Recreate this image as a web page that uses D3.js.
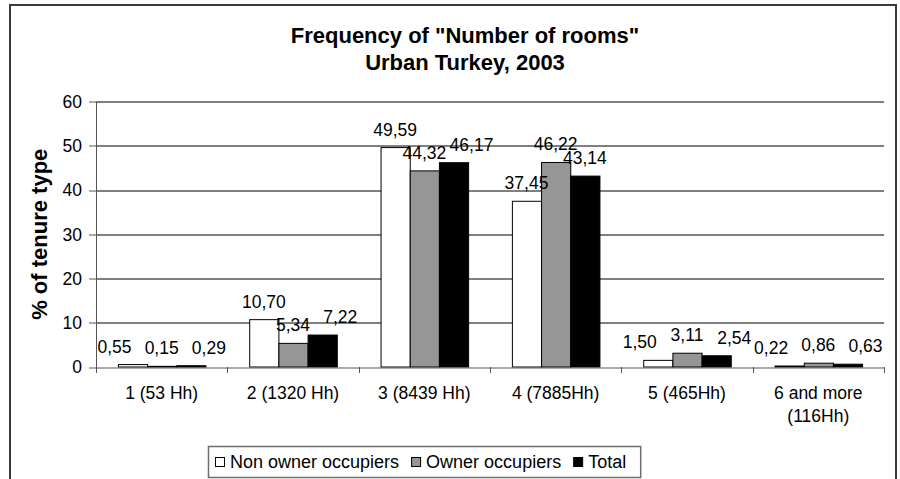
<!DOCTYPE html>
<html>
<head>
<meta charset="utf-8">
<script src="https://cdn.jsdelivr.net/npm/d3@7"></script>
<style>
  body { margin: 0; background: #fff; }
  svg { display: block; font-family: "Liberation Sans", Arial, sans-serif; }
</style>
</head>
<body>
<script>
const categories = [
  "1 (53 Hh)",
  "2 (1320 Hh)",
  "3 (8439 Hh)",
  "4 (7885Hh)",
  "5 (465Hh)",
  "6 and more (116Hh)",
];
const seriesNames = ["Non owner occupiers", "Owner occupiers", "Total"];
const nonOwner = [0.55, 10.7, 49.59, 37.45, 1.5, 0.22];
const owner = [0.15, 5.34, 44.32, 46.22, 3.11, 0.86];
const total = [0.29, 7.22, 46.17, 43.14, 2.54, 0.63];
const yTicks = [0, 10, 20, 30, 40, 50, 60];

const seriesValues = [nonOwner, owner, total];
const seriesFill = ["#ffffff", "#969696", "#000000"];

const margin = { top: 101.5, right: 16, bottom: 112, left: 96 },
  W = 900,
  H = 479,
  width = W - margin.left - margin.right,
  height = H - margin.top - margin.bottom;

const svg = d3
  .select("body")
  .append("svg")
  .attr("width", W)
  .attr("height", H);

svg.append("rect").attr("width", W).attr("height", H).attr("fill", "#fff");

// chart area border (runs off the bottom like the original)
svg
  .append("rect")
  .attr("x", 10)
  .attr("y", 5)
  .attr("width", 886)
  .attr("height", 520)
  .attr("fill", "none")
  .attr("stroke", "#3a3a3a")
  .attr("stroke-width", 2);

// title
const title = svg
  .append("text")
  .attr("text-anchor", "middle")
  .attr("font-weight", "bold")
  .attr("font-size", 22);
title.append("tspan").attr("x", 465).attr("y", 43).text('Frequency of "Number of rooms"');
title.append("tspan").attr("x", 465).attr("y", 70).text("Urban Turkey, 2003");

const g = svg
  .append("g")
  .attr("transform", "translate(" + margin.left + "," + margin.top + ")");

const x0 = d3.scaleBand().domain(categories).range([0, width]);
const x1 = d3
  .scaleBand()
  .domain(seriesNames)
  .range([0, x0.bandwidth()])
  .paddingInner(0)
  .paddingOuter(0.75);
const y = d3.scaleLinear().domain([0, 60]).range([height, 0]);

const crisp = (v) => Math.round(v) + 0.5;

// gridlines
g.selectAll(".grid")
  .data(yTicks.filter((d) => d > 0))
  .enter()
  .append("line")
  .attr("class", "grid")
  .attr("x1", 0)
  .attr("x2", width)
  .attr("y1", (d) => crisp(y(d)))
  .attr("y2", (d) => crisp(y(d)))
  .attr("stroke", "#000")
  .attr("stroke-width", 1);

// y axis
g.append("line")
  .attr("x1", 0.5)
  .attr("x2", 0.5)
  .attr("y1", crisp(y(60)))
  .attr("y2", height + 6)
  .attr("stroke", "#555");

g.selectAll(".ytick")
  .data(yTicks)
  .enter()
  .append("line")
  .attr("x1", -7)
  .attr("x2", 0)
  .attr("y1", (d) => crisp(y(d)))
  .attr("y2", (d) => crisp(y(d)))
  .attr("stroke", "#555");

g.selectAll(".ylab")
  .data(yTicks)
  .enter()
  .append("text")
  .attr("x", -14)
  .attr("y", (d) => y(d))
  .attr("dy", "0.36em")
  .attr("text-anchor", "end")
  .attr("font-size", 17.5)
  .text((d) => d);

svg
  .append("text")
  .attr("transform", "translate(47," + (margin.top + height / 2) + ") rotate(-90)")
  .attr("text-anchor", "middle")
  .attr("font-weight", "bold")
  .attr("font-size", 22)
  .text("% of tenure type");

// bars
const cat = g
  .selectAll(".cat")
  .data(categories)
  .enter()
  .append("g")
  .attr("transform", (d) => "translate(" + x0(d) + ",0)");

cat
  .selectAll("rect")
  .data((d, i) => seriesNames.map((s, j) => ({ s: s, j: j, v: seriesValues[j][i] })))
  .enter()
  .append("rect")
  .attr("x", (d) => x1(d.s) + 0.5)
  .attr("y", (d) => y(d.v))
  .attr("width", x1.bandwidth())
  .attr("height", (d) => height - y(d.v))
  .attr("fill", (d) => seriesFill[d.j])
  .attr("stroke", "#000")
  .attr("stroke-width", 1);

// value labels, pushed sideways when they would collide with the middle one
const fmt = (v) => d3.format(".2f")(v).replace(".", ",");
cat.each(function (c, i) {
  const tops = seriesValues.map((s) => y(s[i]));
  const dx = [0, 0, 0];
  if (Math.abs(tops[0] - tops[1]) < 12.5) dx[0] = -18;
  if (Math.abs(tops[2] - tops[1]) < 12.5) dx[2] = 18;
  d3.select(this)
    .selectAll(".val")
    .data(seriesNames)
    .enter()
    .append("text")
    .attr("x", (s, j) => x1(s) + x1.bandwidth() / 2 + dx[j])
    .attr("y", (s, j) => tops[j] - 12)
    .attr("text-anchor", "middle")
    .attr("font-size", 17.5)
    .text((s, j) => fmt(seriesValues[j][i]));
});

// x axis
g.append("line")
  .attr("x1", 0)
  .attr("x2", width)
  .attr("y1", crisp(height))
  .attr("y2", crisp(height))
  .attr("stroke", "#555");

g.selectAll(".xtick")
  .data(d3.range(categories.length + 1))
  .enter()
  .append("line")
  .attr("x1", (d) => crisp(d * x0.step()))
  .attr("x2", (d) => crisp(d * x0.step()))
  .attr("y1", height)
  .attr("y2", height + 6)
  .attr("stroke", "#555");

const xlab = g
  .selectAll(".xlab")
  .data(categories)
  .enter()
  .append("text")
  .attr("text-anchor", "middle")
  .attr("font-size", 17.5)
  .attr("x", (d) => x0(d) + x0.bandwidth() / 2)
  .attr("y", height + 32);

xlab.each(function (d) {
  const el = d3.select(this);
  const words = d.split(" ");
  let line = [];
  let tspan = el.append("tspan").attr("x", el.attr("x")).attr("dy", 0);
  words.forEach(function (w) {
    line.push(w);
    tspan.text(line.join(" "));
    if (tspan.node().getComputedTextLength() > x0.bandwidth() - 12 && line.length > 1) {
      line.pop();
      tspan.text(line.join(" "));
      line = [w];
      tspan = el.append("tspan").attr("x", el.attr("x")).attr("dy", 23).text(w);
    }
  });
});

// legend
const legend = svg.append("g");
const legendItems = legend
  .selectAll(".item")
  .data(seriesNames)
  .enter()
  .append("g");

legendItems
  .append("text")
  .attr("y", 468)
  .attr("font-size", 18)
  .text((d) => d);

let lx = 215;
legendItems.each(function (d, j) {
  const item = d3.select(this);
  const tw = item.select("text").node().getComputedTextLength();
  item
    .insert("rect", "text")
    .attr("x", lx + 0.5)
    .attr("y", 457.5)
    .attr("width", 9)
    .attr("height", 9)
    .attr("fill", seriesFill[j])
    .attr("stroke", "#000");
  item.select("text").attr("x", lx + 15);
  lx += 15 + tw + 12;
});

legend
  .insert("rect", "g")
  .attr("x", 208.5)
  .attr("y", 446.5)
  .attr("width", lx - 12 + 14 - 208)
  .attr("height", 31)
  .attr("fill", "#fff")
  .attr("stroke", "#6e6e6e")
  .attr("stroke-width", 1.5);
</script>
</body>
</html>
